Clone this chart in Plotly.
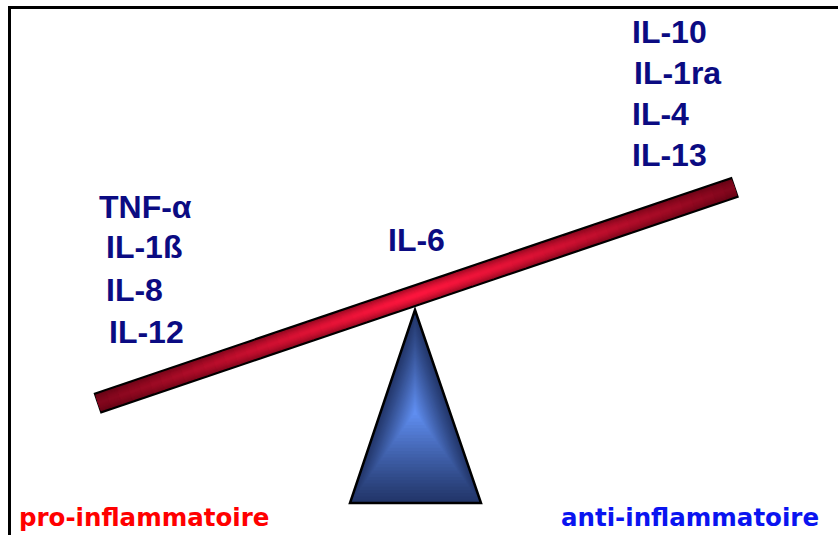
import numpy as np
import plotly.graph_objects as go

# ---- content ----
pro_labels = ["TNF-α", "IL-1ß", "IL-8", "IL-12"]
anti_labels = ["IL-10", "IL-1ra", "IL-4", "IL-13"]
center_label = "IL-6"
side_labels = ["pro-inflammatoire", "anti-inflammatoire"]

# ---- layout geometry (page pixels, y downwards) ----
W, H = 838, 535
beam_p0 = np.array([98.0, 403.0])
beam_p1 = np.array([734.5, 187.5])
beam_half = 10.0
tri = [(415, 310), (350, 503), (481, 503)]
tri_center = np.array([415.0, 412.0])


def path(pts):
    return "M " + " L ".join(f"{x:.2f},{y:.2f}" for x, y in pts) + " Z"


def lerp(c0, c1, t):
    t = min(max(t, 0.0), 1.0)
    return tuple(int(round(a + (b - a) * t)) for a, b in zip(c0, c1))


def rgb(c):
    return f"rgb({c[0]},{c[1]},{c[2]})"


shapes = []

# ---- frame (top and left lines) ----
shapes.append(dict(type="line", xref="x", yref="y", x0=8, y0=7.5, x1=W + 2, y1=7.5,
                   line=dict(color="black", width=3)))
shapes.append(dict(type="line", xref="x", yref="y", x0=9.5, y0=6, x1=9.5, y1=H + 2,
                   line=dict(color="black", width=3)))

# ---- fulcrum triangle with radial-like gradient ----
tri_dark = (34, 54, 106)
tri_light = (96, 142, 240)
levels = 28
tri_arr = np.array(tri, dtype=float)
for i in range(levels):
    f = 1.0 - i / levels
    pts = tri_center + (tri_arr - tri_center) * f
    t = (i / (levels - 1)) ** 1.1
    shapes.append(dict(type="path", xref="x", yref="y", path=path(pts),
                       fillcolor=rgb(lerp(tri_dark, tri_light, t)),
                       line=dict(width=0), layer="above"))
shapes.append(dict(type="path", xref="x", yref="y", path=path(tri_arr),
                   fillcolor="rgba(0,0,0,0)", line=dict(color="black", width=2.5),
                   layer="above"))

# ---- beam ----
d = beam_p1 - beam_p0
L = np.linalg.norm(d)
u = d / L
n = np.array([-u[1], u[0]])  # normal


def quad(s0, s1, h):
    a = beam_p0 + u * s0
    b = beam_p0 + u * s1
    return [a - n * h, b - n * h, b + n * h, a + n * h]


# outline
shapes.append(dict(type="path", xref="x", yref="y",
                   path=path(quad(-1.0, L + 1.0, beam_half + 1.0)),
                   fillcolor="black", line=dict(width=0), layer="above"))

beam_dark = (75, 0, 14)
beam_bright = (255, 22, 62)
nseg = 60
bands = [8.8, 7.5, 6.2, 5.0, 3.8, 2.6, 1.5]
for hb in bands:
    w = hb / 8.8
    across = 1.0 - 0.45 * w ** 1.6
    for i in range(nseg):
        s0 = L * i / nseg
        s1 = L * (i + 1) / nseg
        sm = (s0 + s1) / 2 / L
        along = 1.0 - 0.7 * (abs(sm - 0.5) / 0.5) ** 1.3
        col = lerp(beam_dark, beam_bright, along * across)
        shapes.append(dict(type="path", xref="x", yref="y",
                           path=path(quad(s0, min(s1 + 0.8, L), hb)),
                           fillcolor=rgb(col), line=dict(width=0), layer="above"))

# ---- text ----
navy = "#0b0b82"
label_font = dict(family="Liberation Sans, Arial, sans-serif", size=32, color=navy, weight="bold")
annotations = []
pro_x = [97, 104, 104, 107]
pro_y = [207, 247, 290, 332]
for t, x, y in zip(pro_labels, pro_x, pro_y):
    annotations.append(dict(text=t, x=x, y=y, xref="x", yref="y", xanchor="left",
                            yanchor="middle", showarrow=False, font=label_font))
anti_x = [630, 632, 630, 630]
anti_y = [32, 73, 114, 155]
for t, x, y in zip(anti_labels, anti_x, anti_y):
    annotations.append(dict(text=t, x=x, y=y, xref="x", yref="y", xanchor="left",
                            yanchor="middle", showarrow=False, font=label_font))
annotations.append(dict(text=center_label, x=386, y=240, xref="x", yref="y", xanchor="left",
                        yanchor="middle", showarrow=False, font=label_font))

side_font = dict(family="DejaVu Sans, sans-serif", size=24.5, weight="bold")
annotations.append(dict(text=side_labels[0], x=17, y=517, xref="x", yref="y", xanchor="left",
                        yanchor="middle", showarrow=False, font=dict(side_font, color="#ff0000")))
annotations.append(dict(text=side_labels[1], x=559, y=517, xref="x", yref="y", xanchor="left",
                        yanchor="middle", showarrow=False, font=dict(side_font, color="#0a14f0")))

fig = go.Figure()
fig.add_trace(go.Scatter(x=[0, W], y=[0, H], mode="markers", marker=dict(opacity=0),
                         hoverinfo="skip", showlegend=False))
fig.update_layout(
    width=W, height=H, autosize=False,
    margin=dict(l=0, r=0, t=0, b=0, pad=0),
    paper_bgcolor="white", plot_bgcolor="white",
    xaxis=dict(range=[0, W], visible=False, fixedrange=True),
    yaxis=dict(range=[H, 0], visible=False, fixedrange=True),
    shapes=shapes, annotations=annotations, showlegend=False,
)
fig.write_html("out.html", config={"displayModeBar": False},
               post_script="document.body.style.margin='0';document.body.style.overflow='hidden';")
